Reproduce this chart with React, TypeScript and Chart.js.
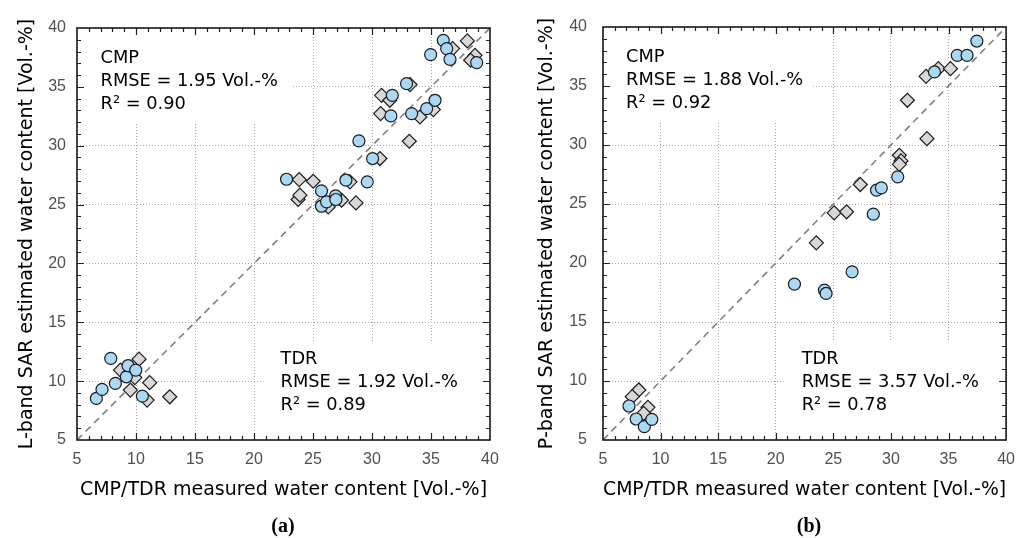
import React, { useEffect, useRef } from 'react';
import { Chart, registerables } from 'chart.js';

Chart.register(...registerables);

// ---------- data ----------
const axisMin = 5;
const axisMax = 40;
const axisStep = 5;
const identityLine = [5, 40];

// (a) L-band
const lbandCircleX = [6.64, 7.12, 7.86, 8.25, 9.18, 9.33, 9.98, 10.54, 22.76, 25.72, 25.72, 26.15, 26.91, 26.94, 27.79, 29.6, 28.89, 30.05, 31.72, 31.6, 32.93, 33.36, 34.63, 35.34, 34.97, 36.04, 36.33, 36.61, 38.87];
const lbandCircleY = [8.53, 9.3, 11.93, 9.81, 10.37, 11.31, 10.94, 8.73, 27.15, 26.16, 24.86, 25.23, 25.74, 25.43, 27.07, 26.93, 30.41, 28.91, 34.28, 32.53, 35.27, 32.73, 33.15, 33.86, 37.74, 38.95, 38.25, 37.34, 37.06];
const lbandDiamondX = [10.26, 8.68, 9.9, 11.16, 9.52, 10.94, 12.86, 23.83, 25.02, 23.74, 23.89, 26.29, 27.42, 28.64, 28.13, 30.67, 30.81, 31.51, 30.73, 33.16, 33.22, 34.06, 35.2, 36.83, 38.08, 38.73, 38.36];
const lbandDiamondY = [11.87, 10.94, 10.3, 9.87, 9.24, 8.39, 8.67, 27.12, 26.98, 25.43, 25.8, 24.8, 25.37, 25.14, 26.93, 28.91, 34.28, 33.86, 32.73, 30.38, 35.19, 32.44, 33.07, 38.25, 38.9, 37.68, 37.26];

// (b) P-band
const pbandCircleX = [7.26, 7.88, 8.59, 9.24, 21.62, 24.23, 24.37, 26.63, 28.47, 28.75, 29.17, 30.59, 33.78, 35.76, 36.61, 37.46];
const pbandCircleY = [7.88, 6.78, 6.13, 6.75, 18.21, 17.7, 17.42, 19.25, 24.14, 26.17, 26.37, 27.3, 36.19, 37.6, 37.6, 38.81];
const pbandDiamondX = [8.11, 7.54, 8.9, 8.53, 23.52, 25.07, 26.15, 27.34, 30.73, 30.87, 30.73, 31.43, 33.13, 33.05, 34.12, 35.17];
const pbandDiamondY = [9.24, 8.67, 7.77, 7.26, 21.71, 24.25, 24.34, 26.65, 29.13, 28.65, 28.36, 33.79, 30.54, 35.82, 36.47, 36.47];

const xTitle = 'CMP/TDR measured water content [Vol.-%]';
const lbandYTitle = 'L-band SAR estimated water content [Vol.-%]';
const pbandYTitle = 'P-band SAR estimated water content [Vol.-%]';

const lbandCmpText = ['CMP', 'RMSE = 1.95 Vol.-%', 'R\u00B2 = 0.90'];
const lbandTdrText = ['TDR', 'RMSE = 1.92 Vol.-%', 'R\u00B2 = 0.89'];
const pbandCmpText = ['CMP', 'RMSE = 1.88 Vol.-%', 'R\u00B2 = 0.92'];
const pbandTdrText = ['TDR', 'RMSE = 3.57 Vol.-%', 'R\u00B2 = 0.78'];

// ---------- styling ----------
const TEXT_FONT = '"DejaVu Sans", Verdana, sans-serif';
const TICK_FONT = '"Liberation Sans", Arial, sans-serif';
const CIRCLE_FILL = '#a9d9f4';
const DIAMOND_FILL = '#d8d8d8';
const MARK_EDGE = '#1c1c1c';

// annotation anchors in data units
const CMP_TEXT_X = 7.0;
const CMP_TEXT_Y = 37.43;
const TDR_TEXT_X = 22.25;
const TDR_TEXT_Y = 11.86;
const CMP_BOX_X = 23.25;
const CMP_BOX_Y = 31.9;
const TDR_BOX_X = 20.8;
const TDR_BOX_Y = 13.3;
const LINE_GAP = 23;

const zip = (xs: number[], ys: number[]) => xs.map((x, i) => ({ x, y: ys[i] }));

type PanelProps = {
  left: number;
  width: number;
  yAxisWidth: number;
  yTitlePad: number;
  yTickPad: number;
  padRight: number;
  padTop: number;
  yTitle: string;
  circleX: number[];
  circleY: number[];
  diamondX: number[];
  diamondY: number[];
  cmpText: string[];
  tdrText: string[];
};

const HEIGHT = 538;
const PLOT_BOTTOM = 440;

function Panel(p: PanelProps) {
  const ref = useRef<HTMLCanvasElement | null>(null);

  useEffect(() => {
    if (!ref.current) return;

    const decor = {
      id: 'decor',
      beforeDatasetsDraw(chart: any) {
        const { ctx, chartArea: a, scales } = chart;
        const xs = scales.x;
        const ys = scales.y;
        ctx.save();
        ctx.fillStyle = '#ffffff';
        const cx = xs.getPixelForValue(CMP_BOX_X);
        const cy = ys.getPixelForValue(CMP_BOX_Y);
        ctx.fillRect(a.left + 1, a.top + 1, cx - a.left - 1, cy - a.top - 1);
        const tx = xs.getPixelForValue(TDR_BOX_X);
        const ty = ys.getPixelForValue(TDR_BOX_Y);
        ctx.fillRect(tx, ty, a.right - tx - 1, a.bottom - ty - 1);

        ctx.fillStyle = '#000000';
        ctx.font = `17.8px ${TEXT_FONT}`;
        ctx.textAlign = 'left';
        ctx.textBaseline = 'middle';
        const c0x = xs.getPixelForValue(CMP_TEXT_X);
        const c0y = ys.getPixelForValue(CMP_TEXT_Y);
        p.cmpText.forEach((t, i) => ctx.fillText(t, c0x, c0y + i * LINE_GAP));
        const t0x = xs.getPixelForValue(TDR_TEXT_X);
        const t0y = ys.getPixelForValue(TDR_TEXT_Y);
        p.tdrText.forEach((t, i) => ctx.fillText(t, t0x, t0y + i * LINE_GAP));
        ctx.restore();
      },
      afterDatasetsDraw(chart: any) {
        const { ctx, chartArea: a, scales } = chart;
        const xs = scales.x;
        const ys = scales.y;
        ctx.save();
        ctx.strokeStyle = '#222222';
        ctx.lineWidth = 1.2;
        ctx.beginPath();
        for (let v = axisMin + 1; v < axisMax; v++) {
          const len = v % axisStep === 0 ? 7 : 4;
          const px = Math.round(xs.getPixelForValue(v)) + 0.5;
          ctx.moveTo(px, a.bottom);
          ctx.lineTo(px, a.bottom - len);
          ctx.moveTo(px, a.top);
          ctx.lineTo(px, a.top + len);
          const py = Math.round(ys.getPixelForValue(v)) + 0.5;
          ctx.moveTo(a.left, py);
          ctx.lineTo(a.left + len, py);
          ctx.moveTo(a.right, py);
          ctx.lineTo(a.right - len, py);
        }
        ctx.stroke();
        ctx.strokeStyle = '#1a1a1a';
        ctx.lineWidth = 1.6;
        ctx.strokeRect(a.left, a.top, a.right - a.left, a.bottom - a.top);
        ctx.restore();
      },
    };

    const chart = new Chart(ref.current, {
      type: 'scatter',
      data: {
        datasets: [
          {
            type: 'line',
            label: '1:1',
            data: zip(identityLine, identityLine),
            borderColor: '#808080',
            borderWidth: 1.6,
            borderDash: [7, 5],
            pointRadius: 0,
            fill: false,
            order: 3,
          } as any,
          {
            label: 'diamonds',
            data: zip(p.diamondX, p.diamondY),
            pointStyle: 'rectRot',
            pointRadius: 7,
            backgroundColor: DIAMOND_FILL,
            borderColor: MARK_EDGE,
            borderWidth: 1.2,
            order: 2,
          },
          {
            label: 'circles',
            data: zip(p.circleX, p.circleY),
            pointStyle: 'circle',
            pointRadius: 6,
            backgroundColor: CIRCLE_FILL,
            borderColor: MARK_EDGE,
            borderWidth: 1.2,
            order: 1,
          },
        ],
      },
      options: {
        animation: false,
        responsive: false,
        maintainAspectRatio: false,
        events: [],
        layout: { padding: { left: 0, right: p.padRight, top: p.padTop, bottom: 0 } },
        plugins: { legend: { display: false }, tooltip: { enabled: false } },
        scales: {
          x: {
            type: 'linear',
            min: axisMin,
            max: axisMax,
            ticks: {
              stepSize: axisStep,
              color: '#505050',
              font: { family: TICK_FONT, size: 16 },
              padding: 10,
              maxRotation: 0,
            },
            grid: { color: '#a8a8a8', lineWidth: 1, drawTicks: false },
            border: { display: false, dash: [1, 2] },
            title: {
              display: true,
              text: xTitle,
              color: '#000',
              font: { family: TEXT_FONT, size: 19 },
              padding: { top: 0, bottom: 37 },
            },
            afterFit: (s: any) => {
              s.height = HEIGHT - PLOT_BOTTOM;
            },
          },
          y: {
            type: 'linear',
            min: axisMin,
            max: axisMax,
            ticks: {
              stepSize: axisStep,
              color: '#505050',
              font: { family: TICK_FONT, size: 16 },
              padding: p.yTickPad,
            },
            grid: { color: '#a8a8a8', lineWidth: 1, drawTicks: false },
            border: { display: false, dash: [1, 2] },
            title: {
              display: true,
              text: p.yTitle,
              color: '#000',
              font: { family: TEXT_FONT, size: 19 },
              padding: { top: p.yTitlePad, bottom: 0 },
            },
            afterFit: (s: any) => {
              s.width = p.yAxisWidth;
            },
          },
        },
      },
      plugins: [decor],
    });
    return () => chart.destroy();
  }, []);

  return (
    <div style={{ position: 'absolute', left: p.left, top: 0, width: p.width, height: HEIGHT }}>
      <canvas ref={ref} width={p.width} height={HEIGHT} style={{ display: 'block', width: p.width, height: HEIGHT }} />
    </div>
  );
}

const captionStyle: React.CSSProperties = {
  position: 'absolute',
  top: 514,
  width: 100,
  textAlign: 'center',
  font: 'bold 20px "Liberation Serif", "DejaVu Serif", serif',
  lineHeight: '23px',
  color: '#000',
};

export default function App() {
  return (
    <div style={{ position: 'absolute', left: 0, top: 0, width: 1025, height: 538, background: '#fff', overflow: 'hidden' }}>
      <Panel
        left={0}
        width={512}
        yAxisWidth={77}
        yTitlePad={16}
        yTickPad={11}
        padRight={22}
        padTop={28}
        yTitle={lbandYTitle}
        circleX={lbandCircleX}
        circleY={lbandCircleY}
        diamondX={lbandDiamondX}
        diamondY={lbandDiamondY}
        cmpText={lbandCmpText}
        tdrText={lbandTdrText}
      />
      <Panel
        left={512}
        width={513}
        yAxisWidth={91}
        yTitlePad={24}
        yTickPad={16}
        padRight={9}
        padTop={27}
        yTitle={pbandYTitle}
        circleX={pbandCircleX}
        circleY={pbandCircleY}
        diamondX={pbandDiamondX}
        diamondY={pbandDiamondY}
        cmpText={pbandCmpText}
        tdrText={pbandTdrText}
      />
      <div style={{ ...captionStyle, left: 233 }}>(a)</div>
      <div style={{ ...captionStyle, left: 759 }}>(b)</div>
    </div>
  );
}
